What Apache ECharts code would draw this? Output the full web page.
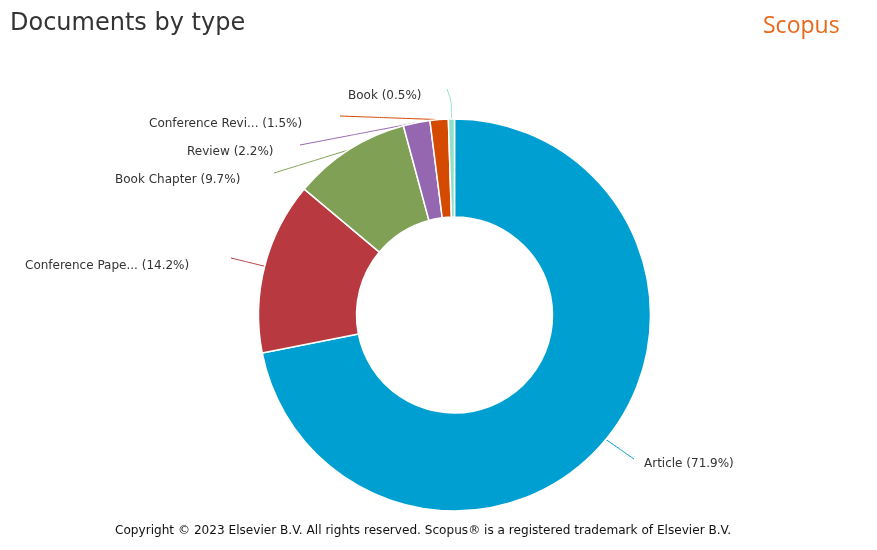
<!DOCTYPE html>
<html>
<head>
<meta charset="utf-8">
<style>
  html, body { margin: 0; padding: 0; background: #fff; }
  #chart { width: 877px; height: 550px; }
</style>
<script src="https://cdn.jsdelivr.net/npm/echarts@6/dist/echarts.min.js"></script>
</head>
<body>
<div id="chart"></div>
<script>
const categories = ['Article', 'Conference Pape...', 'Book Chapter', 'Review', 'Conference Revi...', 'Book'];
const percents = [71.9, 14.2, 9.7, 2.2, 1.5, 0.5];
const colors = ['#009fd1', '#b83a40', '#7fa055', '#9467b0', '#d34a00', '#8fe0c8'];

// label box (left x, middle y) and connector end, per slice
const labelPos = [[644, 464], [25, 265.5], [115, 179.5], [187, 151.5], [149, 123.5], [348, 95.5]];
const lineEnd = [[634, 459], [231, 258], [274, 173], [300, 145], [340, 116], [447, 89]];

const cx = 454.5, cy = 315, outerR = 196, innerR = 98;
const font = 'DejaVu Sans';

// mid angle of a slice, clockwise from the top
const midAngle = function (idx) {
  let sum = 0;
  for (let i = 0; i < idx; i++) sum += percents[i];
  return (sum + percents[idx] / 2) / 100 * Math.PI * 2;
};

const myChart = echarts.init(document.getElementById('chart'));
myChart.setOption({
  backgroundColor: '#fff',
  animation: false,
  title: [
    { text: 'Documents by type', left: 10, top: 12, padding: 0, textStyle: { fontFamily: font, fontSize: 24, fontWeight: 'normal', color: '#333' } },
    { text: 'Scopus', left: 763, top: 15, padding: 0, textStyle: { fontFamily: 'Open Sans', fontSize: 23, fontWeight: 'normal', color: '#e8681a' } },
    { text: 'Copyright © 2023 Elsevier B.V. All rights reserved. Scopus® is a registered trademark of Elsevier B.V.', left: 115, top: 525, padding: 0, textStyle: { fontFamily: font, fontSize: 12.1, fontWeight: 'normal', color: '#111' } }
  ],
  series: [{
    type: 'pie',
    center: [cx, cy],
    radius: [innerR, outerR],
    startAngle: 90,
    clockwise: true,
    silent: true,
    itemStyle: { borderColor: '#fff', borderWidth: 1.5 },
    label: {
      show: true,
      position: 'outside',
      fontFamily: font,
      fontSize: 12,
      color: '#333',
      formatter: function (p) { return p.name + ' (' + p.value + '%)'; }
    },
    labelLine: { show: true, smooth: 0.3, lineStyle: { width: 1 } },
    labelLayout: function (p) {
      const i = p.dataIndex;
      const a = midAngle(i);
      const start = [cx + outerR * Math.sin(a), cy - outerR * Math.cos(a)];
      const end = lineEnd[i];
      const bend = [start[0] + (end[0] - start[0]) * 0.6, start[1] + (end[1] - start[1]) * 0.6];
      if (i === 5) { bend[0] = start[0]; }
      return {
        x: labelPos[i][0],
        y: labelPos[i][1],
        align: 'left',
        verticalAlign: 'middle',
        labelLinePoints: [start, bend, end]
      };
    },
    data: categories.map(function (name, i) {
      return { name: name, value: percents[i], itemStyle: { color: colors[i] } };
    })
  }]
});
</script>
</body>
</html>
